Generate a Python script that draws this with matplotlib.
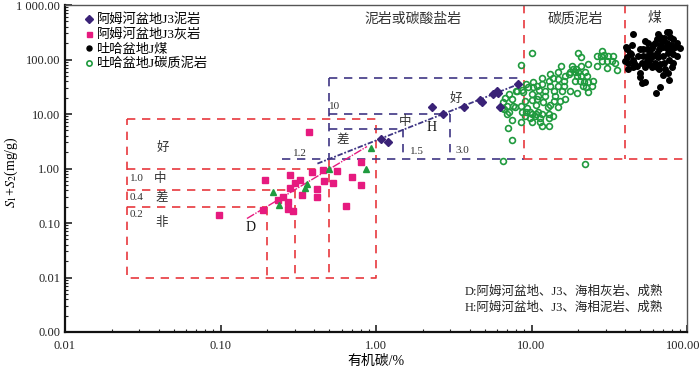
import matplotlib
matplotlib.use("Agg")
import matplotlib.pyplot as plt
import matplotlib.transforms as mtransforms
from matplotlib.ticker import FixedLocator, LogLocator, NullFormatter

plt.rcParams["font.family"] = ["Liberation Serif", "Noto Sans CJK SC"]
plt.rcParams["mathtext.fontset"] = "stix"

# ---- data -----------------------------------------------------------------
# 阿姆河盆地J3泥岩 (TOC %, S1+S2 mg/g)
mud_toc = [1.08, 1.19, 2.29, 2.70, 3.69, 4.68, 4.82, 5.67, 6.02, 6.10, 6.29, 8.22]
mud_s12 = [3.55, 3.0, 13.7, 10.2, 13.2, 17.7, 16.3, 22.8, 25.9, 23.8, 13.2, 34.8]

# 阿姆河盆地J3灰岩
lime_toc = [0.370, 0.193, 0.279, 0.387, 0.324, 0.301, 0.279, 0.252, 0.234, 0.271,
            0.187, 0.271, 0.292, 0.334, 0.417, 0.417, 0.463, 0.456, 0.529, 0.561,
            0.700, 0.800, 0.800, 0.641, 0.0975]
lime_s12 = [4.77, 0.628, 0.776, 0.845, 0.628, 0.531, 0.430, 0.294, 0.259, 0.248,
            0.170, 0.177, 0.163, 0.333, 0.412, 0.306, 0.602, 0.919, 0.531, 0.881,
            0.684, 0.488, 1.34, 0.201, 0.143]

# unlabelled green triangles
tri_toc = [0.217, 0.237, 0.349, 0.360, 0.498, 0.862, 0.929]
tri_s12 = [0.378, 0.210, 0.448, 0.509, 1.0, 1.0, 2.33]

# 吐哈盆地J煤
coal_toc = [45.2, 40.8, 44.6, 41.4, 43.3, 41.4, 43.9, 45.2, 42.0, 45.9,
            50.2, 52.5, 55.6, 48.7, 52.5, 55.6, 58.2, 59.9, 62.7, 65.5,
            67.5, 69.5, 71.6, 74.9, 77.1, 78.3, 81.8, 86.8, 90.8, 84.3,
            79.4, 74.9, 70.5, 66.5, 64.6, 60.8, 58.2, 65.5, 70.5, 76.0,
            80.6, 81.8, 77.1, 71.6, 67.5, 62.7, 55.6, 51.7, 48.0, 42.0,
            50.2, 59.9, 64.6, 72.7, 80.6, 81.8, 86.8, 64.6, 60.8, 56.5,
            54.0, 67.5, 74.9, 51.7, 54.0, 67.5, 63.6, 77.1, 57.3, 54.0,
            45.2, 40.2, 50.2, 66.5, 70.5, 76.0]
coal_s12 = [288, 173, 181, 153, 134, 109, 124, 100, 88, 88,
            159, 159, 153, 114, 118, 118, 134, 166, 205, 288,
            264, 214, 243, 313, 326, 264, 233, 205, 166, 173,
            188, 205, 173, 159, 134, 114, 104, 109, 114, 134,
            153, 124, 100, 88, 81, 88, 92, 88, 74.5, 65.6,
            57.7, 71.4, 71.4, 65.6, 71.4, 88, 114, 233, 188, 205,
            214, 188, 166, 36.3, 37.9, 30.7, 24.8, 41.2, 81, 71.4,
            71.4, 92, 48.7, 65.6, 53, 57.7]

# 吐哈盆地J碳质泥岩
carb_toc = [10.1, 8.5, 20.0, 20.9, 28.5, 26.5, 28.1, 29.4, 31.2, 33.6,
            28.5, 30.8, 33.1, 34.6, 26.5, 30.8, 35.6, 15.5, 18.3, 20.9,
            17.4, 18.6, 19.1, 20.0, 22.2, 23.2, 14.7, 13.2, 16.5, 19.7,
            20.9, 22.9, 11.7, 12.9, 13.8, 14.7, 16.2, 19.1, 20.6, 21.6,
            23.2, 24.9, 10.2, 10.9, 11.7, 13.2, 14.7, 16.2, 21.3, 22.5,
            24.5, 9.2, 9.5, 10.2, 11.2, 12.3, 14.0, 15.8, 17.8, 19.7,
            23.2, 8.0, 7.2, 6.8, 8.7, 8.8, 10.1, 11.0, 12.3, 14.2,
            15.3, 16.5, 14.0, 7.5, 9.1, 10.1, 10.9, 11.9, 13.2, 14.7,
            6.6, 7.0, 7.6, 8.5, 12.7, 6.5, 6.7, 9.4, 10.7, 9.8,
            11.0, 7.2, 8.7, 9.2, 10.0, 10.7, 11.7, 12.9, 13.8, 7.0,
            9.1, 9.8, 10.6, 11.4, 13.0, 7.5, 8.6, 10.0, 11.4, 11.6,
            13.0, 7.1, 7.5, 6.6, 22.2, 8.1, 7.8, 17.8, 19.4]
carb_s12 = [129, 78, 129, 109, 141, 114, 114, 119, 114, 114,
            92, 92, 92, 88, 74.5, 71, 63, 74.5, 74.5, 74.5,
            55, 65.6, 58, 58, 58, 81, 60, 55, 49, 49,
            49, 49, 45, 41, 45, 43, 41, 39.5, 39.5, 38,
            38, 39.5, 38, 33, 35, 33, 33, 33, 32, 31,
            32, 36, 31, 31, 28, 26, 26, 26, 26, 24,
            25, 26, 22.8, 19.3, 28, 25, 23, 21, 21, 21,
            17, 18.5, 17, 18.5, 17, 17.7, 18.5, 16.3, 14.9, 13.7,
            16.3, 14.3, 14.3, 14.3, 13.7, 13.1, 12.6, 13.1, 14.9, 11.1,
            11.1, 11.1, 10.7, 10.7, 9.8, 10.2, 9.8, 9.8, 9.0, 10.2,
            9.0, 8.6, 9.0, 8.3, 8.6, 7.6, 7.0, 7.0, 7.0, 6.1,
            6.1, 5.6, 3.3, 1.35, 1.23, 26, 13.7, 58, 68]

# trend lines D (limestone) and H (mudstone)
d_toc = [0.148, 0.875]
d_s12 = [0.121, 2.53]
h_toc = [0.42, 8.47]
h_s12 = [1.23, 36.3]

x_ticks = [0.01, 0.1, 1, 10, 100]
x_labels = ["0.01", "0.10", "1.00", "10.00", "100.00"]
y_ticks = [0.001, 0.01, 0.1, 1, 10, 100, 1000]
y_labels = ["0.00", "0.01", "0.10", "1.00", "10.00", "100.00", "1 000.00"]

RED = "#e8383d"
NAVY = "#3f3684"
PURPLE = "#3a2277"
PINK = "#e61a7f"
GREEN = "#1f9a3e"

# ---- figure ---------------------------------------------------------------
fig = plt.figure(figsize=(7.0, 3.67), dpi=100)
ax = fig.add_axes([65 / 700, 35 / 367, 622 / 700, 327 / 367])
ax.set_xscale("log")
ax.set_yscale("log")
ax.set_xlim(0.01, 100)
ax.set_ylim(0.001, 1000)

dash = dict(linestyle=(0, (5, 4)), linewidth=1.2)

# red evaluation boxes (limestone)
ax.plot([0.025, 1.0, 1.0, 0.025, 0.025], [8, 8, 0.01, 0.01, 8], color=RED, **dash)
ax.plot([0.025, 0.5], [1.0, 1.0], color=RED, **dash)
ax.plot([0.025, 0.3], [0.4, 0.4], color=RED, **dash)
ax.plot([0.025, 0.2], [0.2, 0.2], color=RED, **dash)
ax.plot([0.2, 0.2], [0.2, 0.01], color=RED, **dash)
ax.plot([0.3, 0.3], [0.4, 0.01], color=RED, **dash)
ax.plot([0.5, 0.5], [1.5, 0.01], color=RED, **dash)

# navy evaluation boxes (mudstone)
ax.plot([0.5, 0.5], [45, 1.5], color=NAVY, **dash)
ax.plot([0.5, 9.0], [45, 45], color=NAVY, **dash)
ax.plot([0.25, 9.0], [1.5, 1.5], color=NAVY, **dash)
ax.plot([0.5, 3.0], [10, 10], color=NAVY, **dash)
ax.plot([0.5, 1.5], [5.4, 5.4], color=NAVY, **dash)
ax.plot([1.5, 1.5], [5.4, 1.5], color=NAVY, **dash)
ax.plot([3.0, 3.0], [10, 1.5], color=NAVY, **dash)

# carbonaceous mudstone / coal boundaries
ax.plot([9.0, 9.0], [1000, 1.5], color=RED, **dash)
ax.plot([40, 40], [1000, 1.5], color=RED, **dash)
ax.plot([9.0, 100], [1.5, 1.5], color=RED, **dash)

# trend lines
ax.plot(d_toc, d_s12, color=PINK, linewidth=1.0, linestyle=(0, (6, 1, 1, 1)))
ax.plot(h_toc, h_s12, color=NAVY, linewidth=1.3, linestyle=(0, (3, 1, 1, 1)))

# scatter
ax.plot(carb_toc, carb_s12, "o", ms=4.2, mfc="none", mec=GREEN, mew=1.2,
        label="吐哈盆地J碳质泥岩", zorder=4)
ax.plot(coal_toc, coal_s12, "o", ms=4.0, color="black", label="吐哈盆地J煤", zorder=4)
ax.plot(lime_toc, lime_s12, "s", ms=4.0, color=PINK, label="阿姆河盆地J3灰岩", zorder=5)
ax.plot(tri_toc, tri_s12, "^", ms=4.5, color=GREEN, zorder=5)
ax.plot(mud_toc, mud_s12, "D", ms=4.0, color=PURPLE, label="阿姆河盆地J3泥岩", zorder=5)

# legend in source order
h, l = ax.get_legend_handles_labels()
order = [3, 2, 1, 0]
ax.legend([h[i] for i in order], [l[i] for i in order], loc="upper left",
          bbox_to_anchor=(0.022, 0.99), frameon=False, fontsize=9.5,
          handlelength=0.7, handletextpad=0.25, labelspacing=0.15,
          borderaxespad=0.0, markerscale=0.9)

# text annotations
tc = "#333333"
fs = 9
ax.text(0.56, 0.955, "泥岩或碳酸盐岩", transform=ax.transAxes, ha="center", va="center", fontsize=10, color=tc)
ax.text(0.82, 0.958, "碳质泥岩", transform=ax.transAxes, ha="center", va="center", fontsize=10, color=tc)
ax.text(0.948, 0.958, "煤", transform=ax.transAxes, ha="center", va="center", fontsize=10, color=tc)

ax.text(0.0425, 2.43, "好", ha="center", va="center", fontsize=fs, color=tc)
ax.text(0.026, 0.65, "1.0", ha="left", va="center", fontsize=8, color=tc)
ax.text(0.041, 0.65, "中", ha="center", va="center", fontsize=fs, color=tc)
ax.text(0.026, 0.29, "0.4", ha="left", va="center", fontsize=8, color=tc)
ax.text(0.042, 0.29, "差", ha="center", va="center", fontsize=fs, color=tc)
ax.text(0.026, 0.143, "0.2", ha="left", va="center", fontsize=8, color=tc)
ax.text(0.042, 0.098, "非", ha="center", va="center", fontsize=fs, color=tc)
ax.text(0.157, 0.083, "D", ha="center", va="center", fontsize=10, color="#111111")

ax.text(0.324, 1.88, "1.2", ha="center", va="center", fontsize=8, color=tc)
ax.text(0.545, 13.7, "10", ha="center", va="center", fontsize=8, color=tc)
ax.text(0.61, 3.26, "差", ha="center", va="center", fontsize=fs, color=tc)
ax.text(1.54, 7.0, "中", ha="center", va="center", fontsize=fs, color=tc)
ax.text(2.29, 5.65, "H", ha="center", va="center", fontsize=10, color="#111111")
ax.text(3.27, 18.5, "好", ha="center", va="center", fontsize=fs, color=tc)
ax.text(1.84, 2.05, "1.5", ha="center", va="center", fontsize=8, color=tc)
ax.text(3.58, 2.14, "3.0", ha="center", va="center", fontsize=8, color=tc)

ax.text(0.961, 0.122, "D:阿姆河盆地、J3、海相灰岩、成熟", transform=ax.transAxes,
        ha="right", va="center", fontsize=9, color="#222222")
ax.text(0.961, 0.073, "H:阿姆河盆地、J3、海相泥岩、成熟", transform=ax.transAxes,
        ha="right", va="center", fontsize=9, color="#222222")

# axes styling
ax.xaxis.set_major_locator(FixedLocator(x_ticks))
ax.set_xticklabels(x_labels)
ax.yaxis.set_major_locator(FixedLocator(y_ticks))
ax.set_yticklabels(y_labels)
ax.xaxis.set_minor_locator(LogLocator(base=10, subs=range(2, 10)))
ax.yaxis.set_minor_locator(LogLocator(base=10, subs=range(2, 10)))
ax.xaxis.set_minor_formatter(NullFormatter())
ax.yaxis.set_minor_formatter(NullFormatter())
ax.tick_params(which="both", direction="in", top=False, right=False,
               labelsize=9, colors="#222222")
ax.tick_params(which="major", length=5, width=1.2)
ax.tick_params(which="minor", length=2.5, width=0.8)
ax.tick_params(axis="x", pad=6)

# keep the last x label inside the canvas
last = ax.get_xticklabels()[-1]
last.set_transform(last.get_transform() +
                   mtransforms.ScaledTranslation(-4 / 100, 0, fig.dpi_scale_trans))

for s in ["left", "bottom"]:
    ax.spines[s].set_linewidth(1.6)
    ax.spines[s].set_color("#111111")
for s in ["top", "right"]:
    ax.spines[s].set_linewidth(1.0)
    ax.spines[s].set_color("#555555")

ax.set_xlabel("有机碳/%", fontsize=10, labelpad=2)
ax.set_ylabel("$S_1$+$S_2$(mg/g)", fontsize=10)
ax.yaxis.set_label_coords(-0.072, 0.49)

fig.savefig("out.png", dpi=100)
